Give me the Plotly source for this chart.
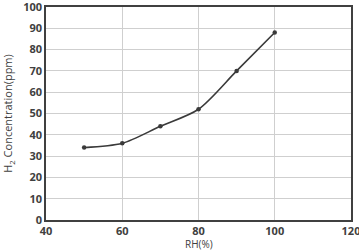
import plotly.graph_objects as go

rh = [50, 60, 70, 80, 90, 100]
h2 = [34, 36, 44, 52, 70, 88]
x_ticks = [40, 60, 80, 100, 120]
y_ticks = [0, 10, 20, 30, 40, 50, 60, 70, 80, 90, 100]

fig = go.Figure()
fig.add_trace(go.Scatter(
    x=rh, y=h2, mode="lines+markers",
    line=dict(color="#3a3a3a", width=1.6, shape="spline", smoothing=0.8),
    marker=dict(color="#3a3a3a", size=4.5),
    cliponaxis=False,
))

font = dict(family="Open Sans, Liberation Sans, sans-serif", size=11, color="#404040")
fig.update_layout(
    width=359, height=250,
    margin=dict(l=46, r=8, t=7, b=30),
    paper_bgcolor="white", plot_bgcolor="white",
    showlegend=False,
    font=font,
    xaxis=dict(
        range=[40, 120], tickvals=x_ticks, showgrid=True, gridcolor="#cfcfcf", gridwidth=1,
        showline=True, linecolor="#404040", linewidth=1.5, mirror=True,
        ticks="", zeroline=False, ticklabeloverflow="allow", automargin=False,
        tickfont=dict(size=11, color="#404040", weight="bold"),
    ),
    yaxis=dict(
        range=[0, 100], tickvals=y_ticks, showgrid=True, gridcolor="#cfcfcf", gridwidth=1,
        showline=True, linecolor="#404040", linewidth=1.5, mirror=True,
        ticks="", zeroline=False, ticklabeloverflow="allow", automargin=False,
        title=dict(text="H<sub>2</sub> Concentration(ppm)", standoff=8, font=dict(size=11, color="#404040")),
        tickfont=dict(size=11, color="#404040", weight="bold"),
    ),
    annotations=[dict(
        text="RH(%)", xref="paper", yref="paper", x=0.5, y=-0.072,
        xanchor="center", yanchor="top", showarrow=False,
        font=dict(size=10, color="#404040"),
    )],
)
fig.write_html("out.html")
